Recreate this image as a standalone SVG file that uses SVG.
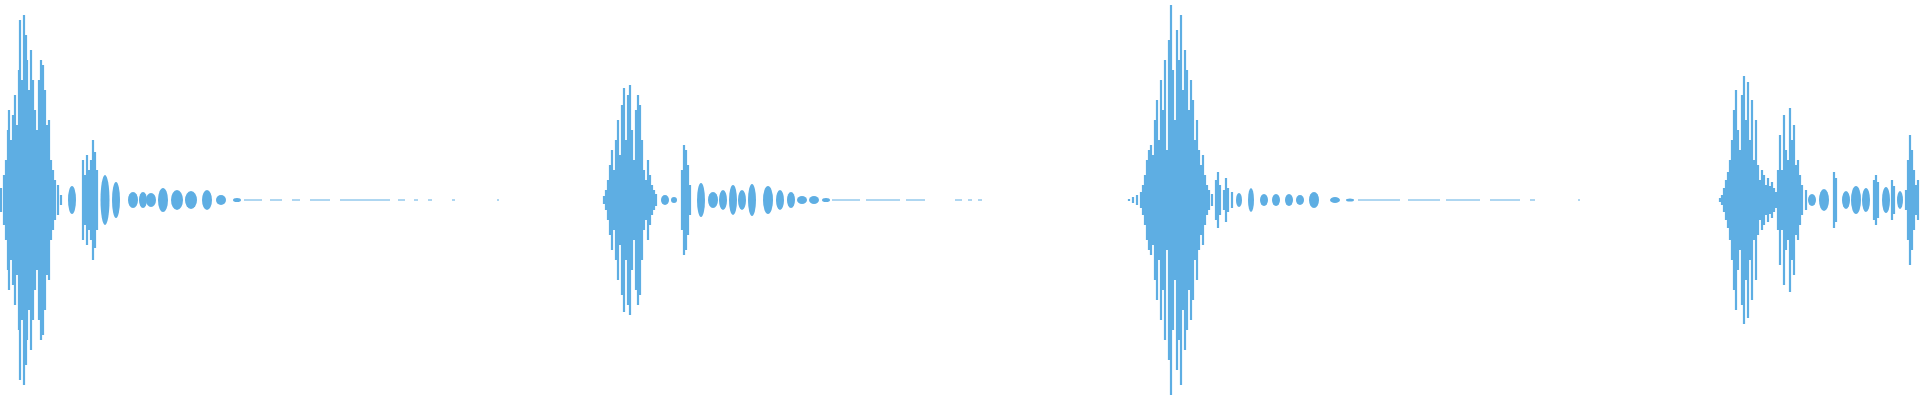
<svg xmlns="http://www.w3.org/2000/svg" width="1920" height="400" viewBox="0 0 1920 400">
<style>.w{stroke:#5eaee3;stroke-width:2.2;fill:none}.b{fill:#5eaee3}.c{stroke:#5eaee3;stroke-width:1}</style>
<rect width="1920" height="400" fill="#fff"/>
<g id="waveform">
<path class="w" d="M1 188V212M4 175V225M6 160V240M8 130V270M9 110V290M11 140V260M13 115V285M15 95V305M17 125V275M19 70V330M20 20V380M22 80V320M24 15V385M26 35V365M27 60V340M29 90V310M31 50V350M33 80V320M35 110V290M37 130V270M39 80V320M41 60V340M43 65V335M45 90V310M47 125V275M49 120V280M51 160V240M53 170V230M55 180V220M58 185V215M61 195V205M83 160V240M85 175V225M87 155V245M89 170V230M91 160V240M93 140V260M95 152V248M97 170V230"/>
<g class="b">
<ellipse cx="72" cy="200" rx="4" ry="14"/><ellipse cx="105" cy="200" rx="4.5" ry="25"/><ellipse cx="116" cy="200" rx="4" ry="18"/>
<ellipse cx="133" cy="200" rx="5" ry="8"/><ellipse cx="143" cy="200" rx="4" ry="8"/><ellipse cx="151" cy="200" rx="5" ry="7"/>
<ellipse cx="163" cy="200" rx="5" ry="12"/><ellipse cx="177" cy="200" rx="6" ry="10"/><ellipse cx="191" cy="200" rx="6" ry="9"/>
<ellipse cx="207" cy="200" rx="5" ry="10"/><ellipse cx="221" cy="200" rx="5" ry="5"/><ellipse cx="237" cy="200" rx="4" ry="2"/>
</g>
<path class="c" d="M244 200H262M270 200H282M292 200H300M310 200H330M340 200H390M398 200H405M414 200H418M428 200H432M452 200H455M497 200H499"/>

<path class="w" d="M604 196V204M606 190V210M608 180V220M610 165V235M612 150V250M614 170V230M616 140V260M618 120V280M620 155V245M622 105V295M624 88V312M626 140V260M628 95V305M630 85V315M632 130V270M634 160V240M636 110V290M638 95V305M640 105V295M642 140V260M644 170V230M646 180V220M648 160V240M650 175V225M652 185V215M654 190V210M656 194V206M682 170V230M684 145V255M686 150V250M688 165V235M690 185V215"/>
<g class="b">
<ellipse cx="665" cy="200" rx="4" ry="5"/><ellipse cx="674" cy="200" rx="3" ry="3"/>
<ellipse cx="701" cy="200" rx="4" ry="17"/><ellipse cx="713" cy="200" rx="5" ry="8"/><ellipse cx="723" cy="200" rx="4" ry="10"/>
<ellipse cx="733" cy="200" rx="4" ry="15"/><ellipse cx="742" cy="200" rx="4" ry="10"/><ellipse cx="752" cy="200" rx="4" ry="16"/>
<ellipse cx="768" cy="200" rx="5" ry="14"/><ellipse cx="780" cy="200" rx="4" ry="10"/><ellipse cx="791" cy="200" rx="4" ry="8"/>
<ellipse cx="802" cy="200" rx="5" ry="4"/><ellipse cx="814" cy="200" rx="5" ry="4"/><ellipse cx="826" cy="200" rx="4" ry="2"/>
</g>
<path class="c" d="M832 200H860M866 200H900M906 200H925M955 200H962M968 200H972M978 200H982"/>

<path class="w" d="M1129 199V201M1133 197V203M1137 195V205M1141 192V208M1143 185V215M1145 175V225M1147 160V240M1149 150V250M1151 145V255M1153 155V245M1155 120V280M1157 100V300M1159 140V260M1161 80V320M1163 110V290M1165 60V340M1167 150V250M1169 40V360M1171 5V395M1173 70V330M1175 120V280M1177 30V370M1179 60V340M1181 15V385M1183 90V310M1185 50V350M1187 70V330M1189 110V290M1191 80V320M1193 100V300M1195 140V260M1197 120V280M1199 150V250M1201 165V235M1203 155V245M1205 175V225M1207 185V215M1209 190V210M1212 194V206M1216 180V220M1218 172V228M1220 185V215M1224 190V210M1226 178V222M1228 188V212M1232 192V208"/>
<g class="b">
<ellipse cx="1239" cy="200" rx="3" ry="7"/><ellipse cx="1251" cy="200" rx="3" ry="12"/><ellipse cx="1264" cy="200" rx="4" ry="6"/>
<ellipse cx="1276" cy="200" rx="4" ry="6"/><ellipse cx="1289" cy="200" rx="4" ry="6"/><ellipse cx="1300" cy="200" rx="4" ry="5"/>
<ellipse cx="1314" cy="200" rx="5" ry="8"/><ellipse cx="1335" cy="200" rx="5" ry="3"/><ellipse cx="1350" cy="200" rx="4" ry="1.5"/>
</g>
<path class="c" d="M1358 200H1400M1408 200H1440M1446 200H1480M1490 200H1520M1530 200H1535M1578 200H1580"/>

<path class="w" d="M1720 198V202M1722 195V205M1724 188V212M1726 180V220M1728 172V228M1730 160V240M1732 140V260M1734 110V290M1736 90V310M1738 130V270M1740 150V250M1742 95V305M1744 76V324M1746 120V280M1748 82V318M1750 140V260M1752 100V300M1754 160V240M1756 120V280M1758 165V235M1760 180V220M1762 170V230M1764 175V225M1766 185V215M1768 178V222M1770 186V214M1772 182V218M1774 188V212M1776 192V208M1778 170V230M1780 135V265M1782 170V230M1784 115V285M1786 150V250M1788 160V240M1790 108V292M1792 140V260M1794 125V275M1796 165V235M1798 160V240M1800 175V225M1802 185V215M1806 190V210M1834 172V228M1836 178V222M1874 180V220M1876 175V225M1878 182V218M1892 180V220M1894 186V214M1906 190V210M1908 160V240M1910 135V265M1912 150V250M1914 170V230M1916 185V215M1918 180V220"/>
<g class="b">
<ellipse cx="1812" cy="200" rx="4" ry="6"/><ellipse cx="1824" cy="200" rx="5" ry="11"/><ellipse cx="1846" cy="200" rx="4" ry="9"/>
<ellipse cx="1856" cy="200" rx="5" ry="14"/><ellipse cx="1866" cy="200" rx="4" ry="12"/><ellipse cx="1886" cy="200" rx="4" ry="13"/>
<ellipse cx="1900" cy="200" rx="3" ry="9"/>
</g>
</g>
</svg>
